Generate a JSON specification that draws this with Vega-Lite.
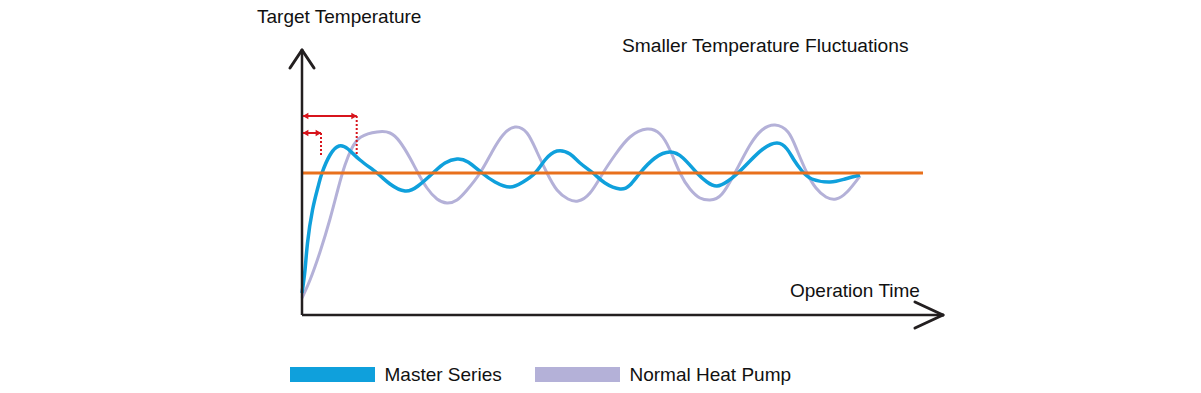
{
  "$schema": "https://vega.github.io/schema/vega-lite/v6.json",
  "width": 1201,
  "height": 393,
  "padding": 0,
  "autosize": {"type": "fit", "contains": "padding"},
  "background": "white",
  "config": {"view": {"stroke": null}, "axis": {"disable": true}},
  "datasets": {
    "curves": [
      {"series": "Master Series", "t": 0, "temp": 2.2},
      {"series": "Master Series", "t": 0.3, "temp": 4.5},
      {"series": "Master Series", "t": 0.55, "temp": 7.2},
      {"series": "Master Series", "t": 1.05, "temp": 10.5},
      {"series": "Master Series", "t": 1.6, "temp": 12.8},
      {"series": "Master Series", "t": 2.0, "temp": 14.2},
      {"series": "Master Series", "t": 2.8, "temp": 16.0},
      {"series": "Master Series", "t": 3.7, "temp": 16.9},
      {"series": "Master Series", "t": 4.6, "temp": 16.6},
      {"series": "Master Series", "t": 5.8, "temp": 15.5},
      {"series": "Master Series", "t": 7.5, "temp": 14.2},
      {"series": "Master Series", "t": 8.8, "temp": 13.1},
      {"series": "Master Series", "t": 10.3, "temp": 12.4},
      {"series": "Master Series", "t": 11.6, "temp": 12.9},
      {"series": "Master Series", "t": 13.1, "temp": 14.2},
      {"series": "Master Series", "t": 14.3, "temp": 15.2},
      {"series": "Master Series", "t": 15.5, "temp": 15.6},
      {"series": "Master Series", "t": 16.6, "temp": 15.3},
      {"series": "Master Series", "t": 18.0, "temp": 14.2},
      {"series": "Master Series", "t": 19.3, "temp": 13.3},
      {"series": "Master Series", "t": 20.8, "temp": 12.8},
      {"series": "Master Series", "t": 22.1, "temp": 13.3},
      {"series": "Master Series", "t": 23.3, "temp": 14.2},
      {"series": "Master Series", "t": 24.3, "temp": 15.5},
      {"series": "Master Series", "t": 25.5, "temp": 16.4},
      {"series": "Master Series", "t": 26.8, "temp": 16.1},
      {"series": "Master Series", "t": 27.8, "temp": 15.2},
      {"series": "Master Series", "t": 29.1, "temp": 14.2},
      {"series": "Master Series", "t": 30.3, "temp": 13.2},
      {"series": "Master Series", "t": 31.8, "temp": 12.6},
      {"series": "Master Series", "t": 32.8, "temp": 13.0},
      {"series": "Master Series", "t": 33.8, "temp": 14.2},
      {"series": "Master Series", "t": 35.3, "temp": 15.7},
      {"series": "Master Series", "t": 36.8, "temp": 16.3},
      {"series": "Master Series", "t": 38.1, "temp": 15.7},
      {"series": "Master Series", "t": 39.5, "temp": 14.2},
      {"series": "Master Series", "t": 40.5, "temp": 13.3},
      {"series": "Master Series", "t": 41.5, "temp": 12.9},
      {"series": "Master Series", "t": 42.6, "temp": 13.4},
      {"series": "Master Series", "t": 43.6, "temp": 14.2},
      {"series": "Master Series", "t": 44.8, "temp": 15.4},
      {"series": "Master Series", "t": 46.1, "temp": 16.6},
      {"series": "Master Series", "t": 47.5, "temp": 17.2},
      {"series": "Master Series", "t": 48.5, "temp": 16.6},
      {"series": "Master Series", "t": 49.2, "temp": 15.5},
      {"series": "Master Series", "t": 50.0, "temp": 14.4},
      {"series": "Master Series", "t": 51.0, "temp": 13.6},
      {"series": "Master Series", "t": 52.8, "temp": 13.3},
      {"series": "Master Series", "t": 54.3, "temp": 13.6},
      {"series": "Master Series", "t": 55.8, "temp": 14.0},
      {"series": "Normal Heat Pump", "t": 0, "temp": 1.7},
      {"series": "Normal Heat Pump", "t": 0.8, "temp": 3.5},
      {"series": "Normal Heat Pump", "t": 1.8, "temp": 6.3},
      {"series": "Normal Heat Pump", "t": 2.8, "temp": 9.6},
      {"series": "Normal Heat Pump", "t": 3.6, "temp": 12.6},
      {"series": "Normal Heat Pump", "t": 4.3, "temp": 15.0},
      {"series": "Normal Heat Pump", "t": 5.0, "temp": 16.7},
      {"series": "Normal Heat Pump", "t": 5.9, "temp": 17.8},
      {"series": "Normal Heat Pump", "t": 7.5, "temp": 18.3},
      {"series": "Normal Heat Pump", "t": 8.8, "temp": 18.2},
      {"series": "Normal Heat Pump", "t": 9.8, "temp": 17.3},
      {"series": "Normal Heat Pump", "t": 10.8, "temp": 15.7},
      {"series": "Normal Heat Pump", "t": 11.6, "temp": 14.2},
      {"series": "Normal Heat Pump", "t": 12.5, "temp": 12.7},
      {"series": "Normal Heat Pump", "t": 13.5, "temp": 11.6},
      {"series": "Normal Heat Pump", "t": 14.5, "temp": 11.2},
      {"series": "Normal Heat Pump", "t": 15.5, "temp": 11.5},
      {"series": "Normal Heat Pump", "t": 16.5, "temp": 12.5},
      {"series": "Normal Heat Pump", "t": 17.8, "temp": 14.2},
      {"series": "Normal Heat Pump", "t": 19.0, "temp": 16.3},
      {"series": "Normal Heat Pump", "t": 20.1, "temp": 18.0},
      {"series": "Normal Heat Pump", "t": 21.3, "temp": 18.8},
      {"series": "Normal Heat Pump", "t": 22.5, "temp": 18.2},
      {"series": "Normal Heat Pump", "t": 23.5, "temp": 16.3},
      {"series": "Normal Heat Pump", "t": 24.5, "temp": 14.2},
      {"series": "Normal Heat Pump", "t": 25.5, "temp": 12.5},
      {"series": "Normal Heat Pump", "t": 26.6, "temp": 11.6},
      {"series": "Normal Heat Pump", "t": 27.6, "temp": 11.4},
      {"series": "Normal Heat Pump", "t": 28.8, "temp": 12.2},
      {"series": "Normal Heat Pump", "t": 30.1, "temp": 14.2},
      {"series": "Normal Heat Pump", "t": 31.3, "temp": 16.0},
      {"series": "Normal Heat Pump", "t": 32.8, "temp": 17.8},
      {"series": "Normal Heat Pump", "t": 34.5, "temp": 18.6},
      {"series": "Normal Heat Pump", "t": 35.8, "temp": 18.1},
      {"series": "Normal Heat Pump", "t": 36.8, "temp": 16.5},
      {"series": "Normal Heat Pump", "t": 37.8, "temp": 14.2},
      {"series": "Normal Heat Pump", "t": 38.8, "temp": 12.6},
      {"series": "Normal Heat Pump", "t": 39.8, "temp": 11.7},
      {"series": "Normal Heat Pump", "t": 40.8, "temp": 11.5},
      {"series": "Normal Heat Pump", "t": 42.0, "temp": 12.1},
      {"series": "Normal Heat Pump", "t": 43.5, "temp": 14.6},
      {"series": "Normal Heat Pump", "t": 44.8, "temp": 17.0},
      {"series": "Normal Heat Pump", "t": 46.0, "temp": 18.5},
      {"series": "Normal Heat Pump", "t": 47.3, "temp": 19.0},
      {"series": "Normal Heat Pump", "t": 48.6, "temp": 18.3},
      {"series": "Normal Heat Pump", "t": 49.5, "temp": 16.5},
      {"series": "Normal Heat Pump", "t": 50.5, "temp": 14.2},
      {"series": "Normal Heat Pump", "t": 51.4, "temp": 12.7},
      {"series": "Normal Heat Pump", "t": 52.4, "temp": 11.8},
      {"series": "Normal Heat Pump", "t": 53.4, "temp": 11.6},
      {"series": "Normal Heat Pump", "t": 54.5, "temp": 12.3},
      {"series": "Normal Heat Pump", "t": 55.8, "temp": 13.9}
    ],
    "one": [{}]
  },
  "layer": [
    {
      "data": {"name": "curves"},
      "transform": [{"filter": "datum.series === 'Normal Heat Pump'"}],
      "mark": {"type": "line", "strokeWidth": 3, "interpolate": "natural"},
      "encoding": {
        "x": {"field": "t", "type": "quantitative", "axis": null, "scale": {"domain": [-30.2, 89.9], "nice": false, "zero": false}},
        "y": {"field": "temp", "type": "quantitative", "axis": null, "scale": {"domain": [-7.8, 31.5], "nice": false, "zero": false}},
        "color": {
          "field": "series", "type": "nominal",
          "scale": {"domain": ["Master Series", "Normal Heat Pump"], "range": ["#0fa0dc", "#b4b1d8"]},
          "legend": {"orient": "none", "legendX": 282.5, "legendY": 362.5, "direction": "horizontal", "title": null, "symbolType": "stroke", "symbolSize": 7225, "symbolStrokeWidth": 15, "clipHeight": 24, "labelFontSize": 19, "labelFont": "Liberation Sans", "labelColor": "#111111", "labelOffset": 2, "labelLimit": 400, "columnPadding": 25, "padding": 0, "symbolOpacity": 1}
        }
      }
    },
    {
      "data": {"name": "curves"},
      "transform": [{"filter": "datum.series === 'Master Series'"}],
      "mark": {"type": "line", "strokeWidth": 3.5, "interpolate": "natural"},
      "encoding": {
        "x": {"field": "t", "type": "quantitative"},
        "y": {"field": "temp", "type": "quantitative"},
        "color": {"field": "series", "type": "nominal"}
      }
    },
    {
      "data": {"name": "one"},
      "mark": {"type": "rule", "color": "#e8701c", "strokeWidth": 3},
      "encoding": {"x": {"datum": 0, "type": "quantitative"}, "x2": {"datum": 62.1}, "y": {"datum": 14.2, "type": "quantitative"}}
    },
    {
      "data": {"name": "one"},
      "mark": {"type": "rule", "color": "#231f20", "strokeWidth": 2.5},
      "encoding": {"x": {"datum": 0, "type": "quantitative"}, "y": {"datum": 0, "type": "quantitative"}, "y2": {"datum": 26.5}}
    },
    {
      "data": {"name": "one"},
      "mark": {"type": "rule", "color": "#231f20", "strokeWidth": 2.5},
      "encoding": {"x": {"datum": 0, "type": "quantitative"}, "x2": {"datum": 64.1}, "y": {"datum": 0, "type": "quantitative"}}
    },
    {
      "data": {"name": "one"},
      "mark": {"type": "rule", "color": "#231f20", "strokeWidth": 3, "strokeCap": "round"},
      "encoding": {"x": {"datum": -1.2, "type": "quantitative"}, "x2": {"datum": 0}, "y": {"datum": 24.7, "type": "quantitative"}, "y2": {"datum": 26.5}}
    },
    {
      "data": {"name": "one"},
      "mark": {"type": "rule", "color": "#231f20", "strokeWidth": 3, "strokeCap": "round"},
      "encoding": {"x": {"datum": 1.2, "type": "quantitative"}, "x2": {"datum": 0}, "y": {"datum": 24.7, "type": "quantitative"}, "y2": {"datum": 26.5}}
    },
    {
      "data": {"name": "one"},
      "mark": {"type": "rule", "color": "#231f20", "strokeWidth": 3, "strokeCap": "round"},
      "encoding": {"x": {"datum": 61.3, "type": "quantitative"}, "x2": {"datum": 64.1}, "y": {"datum": 1.3, "type": "quantitative"}, "y2": {"datum": 0}}
    },
    {
      "data": {"name": "one"},
      "mark": {"type": "rule", "color": "#231f20", "strokeWidth": 3, "strokeCap": "round"},
      "encoding": {"x": {"datum": 61.3, "type": "quantitative"}, "x2": {"datum": 64.1}, "y": {"datum": -1.3, "type": "quantitative"}, "y2": {"datum": 0}}
    },
    {
      "data": {"name": "one"},
      "mark": {"type": "rule", "color": "#d7141c", "strokeWidth": 2},
      "encoding": {"x": {"datum": 0.1, "type": "quantitative"}, "x2": {"datum": 5.47}, "y": {"datum": 19.9, "type": "quantitative"}}
    },
    {
      "data": {"name": "one"},
      "mark": {"type": "rule", "color": "#d7141c", "strokeWidth": 2},
      "encoding": {"x": {"datum": 0.1, "type": "quantitative"}, "x2": {"datum": 1.9}, "y": {"datum": 18.2, "type": "quantitative"}}
    },
    {
      "data": {"name": "one"},
      "mark": {"type": "rule", "color": "#d7141c", "strokeWidth": 2, "strokeDash": [2, 2]},
      "encoding": {"x": {"datum": 5.47, "type": "quantitative"}, "y": {"datum": 19.9, "type": "quantitative"}, "y2": {"datum": 16.0}}
    },
    {
      "data": {"name": "one"},
      "mark": {"type": "rule", "color": "#d7141c", "strokeWidth": 2, "strokeDash": [2, 2]},
      "encoding": {"x": {"datum": 1.9, "type": "quantitative"}, "y": {"datum": 18.2, "type": "quantitative"}, "y2": {"datum": 15.8}}
    },
    {
      "data": {"name": "one"},
      "mark": {"type": "point", "shape": "triangle-left", "filled": true, "color": "#d7141c", "size": 45, "opacity": 1},
      "encoding": {"x": {"datum": 0.35, "type": "quantitative"}, "y": {"datum": 19.9, "type": "quantitative"}}
    },
    {
      "data": {"name": "one"},
      "mark": {"type": "point", "shape": "triangle-right", "filled": true, "color": "#d7141c", "size": 45, "opacity": 1},
      "encoding": {"x": {"datum": 5.22, "type": "quantitative"}, "y": {"datum": 19.9, "type": "quantitative"}}
    },
    {
      "data": {"name": "one"},
      "mark": {"type": "point", "shape": "triangle-left", "filled": true, "color": "#d7141c", "size": 45, "opacity": 1},
      "encoding": {"x": {"datum": 0.35, "type": "quantitative"}, "y": {"datum": 18.2, "type": "quantitative"}}
    },
    {
      "data": {"name": "one"},
      "mark": {"type": "point", "shape": "triangle-right", "filled": true, "color": "#d7141c", "size": 45, "opacity": 1},
      "encoding": {"x": {"datum": 1.65, "type": "quantitative"}, "y": {"datum": 18.2, "type": "quantitative"}}
    },
    {
      "data": {"name": "one"},
      "mark": {"type": "text", "text": "Target Temperature", "align": "left", "baseline": "middle", "font": "Liberation Sans", "fontSize": 19, "color": "#111111"},
      "encoding": {"x": {"datum": -4.5, "type": "quantitative"}, "y": {"datum": 29.8, "type": "quantitative"}}
    },
    {
      "data": {"name": "one"},
      "mark": {"type": "text", "text": "Smaller Temperature Fluctuations", "align": "left", "baseline": "middle", "font": "Liberation Sans", "fontSize": 19.2, "color": "#111111"},
      "encoding": {"x": {"datum": 32.0, "type": "quantitative"}, "y": {"datum": 26.9, "type": "quantitative"}}
    },
    {
      "data": {"name": "one"},
      "mark": {"type": "text", "text": "Operation Time", "align": "left", "baseline": "middle", "font": "Liberation Sans", "fontSize": 19, "color": "#111111"},
      "encoding": {"x": {"datum": 48.8, "type": "quantitative"}, "y": {"datum": 2.4, "type": "quantitative"}}
    }
  ]
}
